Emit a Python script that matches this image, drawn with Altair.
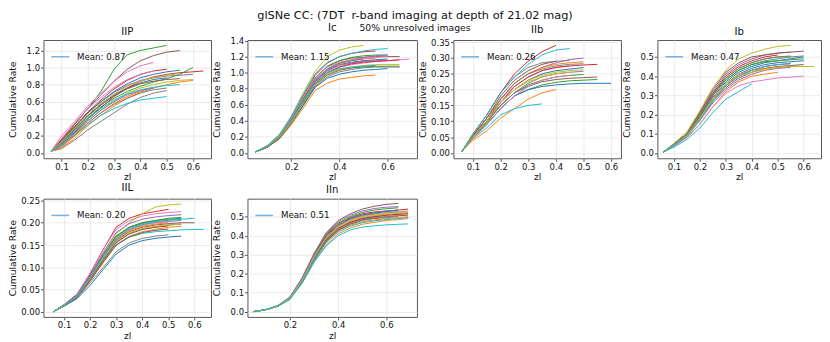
import altair as alt
import pandas as pd

TAB10 = ["#1f77b4", "#ff7f0e", "#2ca02c", "#d62728", "#9467bd",
         "#8c564b", "#e377c2", "#7f7f7f", "#bcbd22", "#17becf"]
FONT = "DejaVu Sans"

SUPTITLE = "glSNe CC: (7DT\u00a0 r-band imaging at depth of 21.02 mag)"
SUBTITLE = "50% unresolved images"

# ---------------- data ----------------
Z_IIP = [0.06, 0.1, 0.15, 0.2, 0.25, 0.3, 0.35, 0.4, 0.45, 0.5, 0.55, 0.6, 0.64]
IIP = [
    [0.02, 0.12, 0.28, 0.44, 0.57, 0.68, 0.76, 0.82, 0.86, 0.88],
    [0.02, 0.06, 0.17, 0.32, 0.44, 0.55, 0.64, 0.71, 0.76, 0.80, 0.83, 0.85],
    [0.02, 0.15, 0.33, 0.52, 0.72, 0.98, 1.15, 1.20, 1.23, 1.26],
    [0.02, 0.10, 0.24, 0.40, 0.53, 0.66, 0.76, 0.84, 0.89, 0.92, 0.94, 0.95, 0.96],
    [0.02, 0.13, 0.30, 0.47, 0.60, 0.71, 0.79, 0.85, 0.88, 0.90, 0.91, 0.92],
    [0.02, 0.16, 0.34, 0.52, 0.68, 0.84, 0.98, 1.08, 1.14, 1.18, 1.20],
    [0.02, 0.20, 0.37, 0.55, 0.70, 0.84, 0.95, 1.02, 1.06],
    [0.02, 0.05, 0.15, 0.27, 0.37, 0.47, 0.57, 0.65, 0.70, 0.73],
    [0.02, 0.09, 0.22, 0.37, 0.50, 0.61, 0.70, 0.76, 0.80, 0.83, 0.85, 0.86],
    [0.02, 0.08, 0.20, 0.33, 0.44, 0.52, 0.58, 0.62, 0.64, 0.66],
    [0.02, 0.14, 0.30, 0.47, 0.60, 0.72, 0.81, 0.88, 0.92, 0.95, 0.97],
    [0.02, 0.07, 0.20, 0.35, 0.47, 0.58, 0.66, 0.72, 0.76],
    [0.02, 0.11, 0.26, 0.41, 0.54, 0.64, 0.72, 0.78, 0.83, 0.87, 0.92, 1.00],
    [0.02, 0.15, 0.31, 0.48, 0.62, 0.75, 0.85, 0.92, 0.96, 0.98],
    [0.02, 0.10, 0.23, 0.38, 0.50, 0.60, 0.68, 0.73, 0.76],
    [0.02, 0.12, 0.27, 0.43, 0.56, 0.67, 0.75, 0.81, 0.84, 0.86, 0.87],
    [0.02, 0.17, 0.35, 0.52, 0.65, 0.77, 0.86, 0.92, 0.96],
    [0.02, 0.09, 0.21, 0.35, 0.47, 0.57, 0.64, 0.70, 0.74, 0.76],
    [0.02, 0.13, 0.29, 0.45, 0.58, 0.69, 0.78, 0.84, 0.88, 0.91, 0.93],
    [0.02, 0.11, 0.25, 0.40, 0.52, 0.62, 0.69, 0.74, 0.77, 0.79, 0.80],
]

Z_IC = [0.05, 0.1, 0.15, 0.2, 0.25, 0.3, 0.35, 0.4, 0.45, 0.5, 0.55, 0.6, 0.65, 0.69]
IC = [
    [0.01, 0.08, 0.20, 0.41, 0.66, 0.90, 1.03, 1.10, 1.13, 1.15, 1.16, 1.17],
    [0.01, 0.07, 0.17, 0.35, 0.56, 0.78, 0.87, 0.92, 0.94, 0.96, 0.97],
    [0.01, 0.08, 0.19, 0.38, 0.62, 0.86, 0.98, 1.04, 1.06, 1.07, 1.08, 1.08, 1.08],
    [0.01, 0.09, 0.22, 0.44, 0.71, 0.97, 1.12, 1.20, 1.24, 1.26, 1.27],
    [0.01, 0.08, 0.20, 0.40, 0.65, 0.89, 1.02, 1.09, 1.12, 1.14, 1.15, 1.15],
    [0.01, 0.08, 0.21, 0.42, 0.68, 0.93, 1.08, 1.15, 1.18, 1.19, 1.20, 1.20, 1.20],
    [0.01, 0.08, 0.20, 0.40, 0.64, 0.88, 1.00, 1.07, 1.10, 1.12, 1.14, 1.15, 1.16, 1.17],
    [0.01, 0.07, 0.18, 0.37, 0.60, 0.83, 0.95, 1.01, 1.04, 1.06, 1.07, 1.07, 1.07],
    [0.01, 0.09, 0.23, 0.46, 0.75, 1.02, 1.20, 1.28, 1.32, 1.34],
    [0.01, 0.09, 0.22, 0.45, 0.73, 0.99, 1.13, 1.20, 1.24, 1.27, 1.29, 1.30],
    [0.01, 0.07, 0.18, 0.37, 0.59, 0.82, 0.93, 0.98, 1.01, 1.03, 1.04, 1.05],
    [0.01, 0.08, 0.20, 0.41, 0.66, 0.91, 1.04, 1.11, 1.15, 1.17, 1.18],
    [0.01, 0.08, 0.21, 0.42, 0.68, 0.94, 1.08, 1.15, 1.19, 1.21, 1.22, 1.22],
    [0.01, 0.08, 0.19, 0.39, 0.63, 0.87, 1.00, 1.07, 1.11, 1.13, 1.14, 1.15, 1.16],
    [0.01, 0.08, 0.20, 0.40, 0.65, 0.90, 1.04, 1.12, 1.16, 1.19, 1.21, 1.22],
    [0.01, 0.07, 0.18, 0.37, 0.61, 0.85, 0.97, 1.03, 1.06, 1.08, 1.09],
    [0.01, 0.09, 0.21, 0.43, 0.69, 0.94, 1.07, 1.13, 1.16, 1.18, 1.19, 1.20],
    [0.01, 0.08, 0.20, 0.41, 0.66, 0.91, 1.05, 1.12, 1.15, 1.17],
    [0.01, 0.08, 0.19, 0.38, 0.62, 0.86, 0.98, 1.04, 1.07, 1.09, 1.10, 1.10, 1.10],
    [0.01, 0.08, 0.20, 0.40, 0.64, 0.88, 1.00, 1.05, 1.07, 1.08, 1.09],
]

Z_IIB = [0.06, 0.1, 0.15, 0.2, 0.25, 0.3, 0.35, 0.4, 0.45, 0.5, 0.55, 0.6]
IIB = [
    [0.005, 0.05, 0.10, 0.16, 0.20, 0.23, 0.25, 0.26, 0.265, 0.27],
    [0.005, 0.04, 0.07, 0.11, 0.14, 0.17, 0.19, 0.20],
    [0.005, 0.05, 0.09, 0.14, 0.18, 0.20, 0.215, 0.223, 0.228, 0.23, 0.232],
    [0.005, 0.06, 0.12, 0.19, 0.25, 0.29, 0.32, 0.34],
    [0.005, 0.05, 0.11, 0.17, 0.22, 0.25, 0.27, 0.285, 0.295, 0.30],
    [0.005, 0.05, 0.10, 0.15, 0.19, 0.21, 0.225, 0.232, 0.236, 0.238, 0.24],
    [0.005, 0.055, 0.11, 0.17, 0.21, 0.24, 0.26, 0.27, 0.275],
    [0.005, 0.06, 0.12, 0.19, 0.24, 0.27, 0.285, 0.29, 0.292],
    [0.005, 0.05, 0.10, 0.16, 0.20, 0.23, 0.245, 0.255, 0.26, 0.263],
    [0.005, 0.045, 0.08, 0.12, 0.14, 0.15, 0.155],
    [0.005, 0.05, 0.09, 0.14, 0.18, 0.20, 0.21, 0.215, 0.218, 0.22, 0.22, 0.22],
    [0.005, 0.055, 0.11, 0.17, 0.22, 0.25, 0.27, 0.28, 0.285, 0.288],
    [0.005, 0.05, 0.095, 0.15, 0.19, 0.215, 0.23, 0.24, 0.245, 0.248],
    [0.005, 0.05, 0.10, 0.16, 0.21, 0.24, 0.26, 0.27, 0.275, 0.278, 0.28],
    [0.005, 0.05, 0.10, 0.15, 0.19, 0.22, 0.24, 0.25, 0.255, 0.258],
    [0.005, 0.055, 0.11, 0.18, 0.23, 0.26, 0.28, 0.29],
    [0.005, 0.045, 0.09, 0.14, 0.18, 0.21, 0.23, 0.24, 0.245],
    [0.005, 0.05, 0.10, 0.17, 0.22, 0.25, 0.265, 0.275, 0.28, 0.282],
    [0.005, 0.05, 0.10, 0.16, 0.20, 0.225, 0.24, 0.25, 0.255],
    [0.005, 0.06, 0.12, 0.19, 0.24, 0.28, 0.31, 0.325, 0.33],
]

Z_IB = [0.06, 0.1, 0.15, 0.2, 0.25, 0.3, 0.35, 0.4, 0.45, 0.5, 0.55, 0.6, 0.64]
IB = [
    [0.005, 0.04, 0.09, 0.18, 0.28, 0.36, 0.41, 0.44, 0.46, 0.47, 0.475, 0.48],
    [0.005, 0.035, 0.08, 0.15, 0.24, 0.32, 0.37, 0.40, 0.41, 0.42],
    [0.005, 0.045, 0.10, 0.20, 0.31, 0.39, 0.44, 0.47, 0.49, 0.50, 0.50],
    [0.005, 0.04, 0.09, 0.18, 0.28, 0.35, 0.40, 0.43, 0.45, 0.46, 0.465],
    [0.005, 0.045, 0.10, 0.21, 0.32, 0.41, 0.46, 0.49, 0.51, 0.52, 0.525],
    [0.005, 0.04, 0.09, 0.17, 0.27, 0.34, 0.39, 0.42, 0.44, 0.45, 0.455, 0.46],
    [0.005, 0.035, 0.08, 0.15, 0.24, 0.31, 0.35, 0.37, 0.38, 0.39, 0.395, 0.40],
    [0.005, 0.045, 0.10, 0.20, 0.30, 0.38, 0.43, 0.46, 0.48, 0.49, 0.50, 0.505],
    [0.005, 0.05, 0.11, 0.22, 0.34, 0.43, 0.49, 0.52, 0.54, 0.555, 0.56],
    [0.005, 0.03, 0.07, 0.13, 0.21, 0.28, 0.32, 0.36],
    [0.005, 0.04, 0.09, 0.19, 0.29, 0.37, 0.42, 0.45, 0.47, 0.48, 0.49, 0.50],
    [0.005, 0.04, 0.09, 0.18, 0.28, 0.36, 0.41, 0.43, 0.44, 0.445, 0.45],
    [0.005, 0.04, 0.095, 0.19, 0.30, 0.38, 0.43, 0.46, 0.475, 0.48, 0.485, 0.49],
    [0.005, 0.045, 0.10, 0.20, 0.31, 0.40, 0.45, 0.48, 0.50, 0.51],
    [0.005, 0.04, 0.09, 0.17, 0.26, 0.33, 0.38, 0.41, 0.43, 0.44, 0.445],
    [0.005, 0.045, 0.10, 0.21, 0.33, 0.42, 0.47, 0.50, 0.51, 0.52, 0.525, 0.53],
    [0.005, 0.04, 0.09, 0.18, 0.27, 0.35, 0.40, 0.43, 0.45, 0.46],
    [0.005, 0.045, 0.10, 0.20, 0.30, 0.39, 0.44, 0.47, 0.49, 0.50, 0.505],
    [0.005, 0.04, 0.09, 0.18, 0.28, 0.36, 0.40, 0.42, 0.435, 0.445, 0.45, 0.45, 0.45],
    [0.005, 0.04, 0.085, 0.17, 0.27, 0.35, 0.40, 0.43, 0.45, 0.46, 0.465],
]

Z_IIL = [0.06, 0.1, 0.15, 0.2, 0.25, 0.3, 0.35, 0.4, 0.45, 0.5, 0.55, 0.6, 0.635]
IIL = [
    [0.001, 0.015, 0.035, 0.072, 0.115, 0.155, 0.175, 0.185, 0.19, 0.195, 0.197],
    [0.001, 0.014, 0.033, 0.07, 0.11, 0.15, 0.17, 0.18, 0.185, 0.19, 0.192],
    [0.001, 0.016, 0.038, 0.08, 0.13, 0.17, 0.19, 0.20, 0.205, 0.21, 0.212],
    [0.001, 0.016, 0.04, 0.085, 0.14, 0.19, 0.21, 0.22, 0.225, 0.23],
    [0.001, 0.015, 0.036, 0.077, 0.125, 0.165, 0.185, 0.195, 0.20, 0.203, 0.205],
    [0.001, 0.015, 0.035, 0.074, 0.12, 0.16, 0.18, 0.19, 0.195, 0.198, 0.20, 0.20],
    [0.001, 0.017, 0.04, 0.088, 0.14, 0.185, 0.205, 0.215, 0.22, 0.223, 0.225],
    [0.001, 0.014, 0.032, 0.066, 0.10, 0.135, 0.155, 0.165, 0.17, 0.173],
    [0.001, 0.016, 0.038, 0.08, 0.13, 0.175, 0.20, 0.22, 0.235, 0.24, 0.242],
    [0.001, 0.015, 0.035, 0.072, 0.115, 0.15, 0.168, 0.176, 0.18, 0.182, 0.184, 0.185, 0.185],
    [0.001, 0.013, 0.03, 0.06, 0.095, 0.13, 0.15, 0.16, 0.165, 0.168, 0.17],
    [0.001, 0.015, 0.036, 0.076, 0.122, 0.162, 0.182, 0.192, 0.197, 0.20],
    [0.001, 0.016, 0.037, 0.078, 0.128, 0.17, 0.19, 0.20, 0.205, 0.208, 0.21],
    [0.001, 0.015, 0.034, 0.073, 0.118, 0.157, 0.176, 0.186, 0.19, 0.193],
    [0.001, 0.016, 0.039, 0.082, 0.133, 0.178, 0.198, 0.208, 0.213, 0.216, 0.218],
    [0.001, 0.014, 0.033, 0.07, 0.112, 0.15, 0.168, 0.178, 0.183, 0.186],
    [0.001, 0.015, 0.036, 0.077, 0.124, 0.165, 0.185, 0.195, 0.20, 0.202],
    [0.001, 0.016, 0.037, 0.079, 0.127, 0.168, 0.188, 0.198, 0.203, 0.206, 0.208],
    [0.001, 0.015, 0.035, 0.075, 0.12, 0.158, 0.177, 0.187, 0.192, 0.195, 0.197],
    [0.001, 0.015, 0.036, 0.076, 0.123, 0.164, 0.185, 0.196, 0.202, 0.206, 0.208, 0.21],
]

Z_IIN = [0.05, 0.1, 0.15, 0.2, 0.25, 0.3, 0.35, 0.4, 0.45, 0.5, 0.55, 0.6, 0.65, 0.69]
IIN = [
    [0.0, 0.01, 0.03, 0.07, 0.16, 0.28, 0.38, 0.44, 0.47, 0.49, 0.50, 0.51, 0.515, 0.52],
    [0.0, 0.01, 0.028, 0.065, 0.15, 0.26, 0.35, 0.41, 0.44, 0.46, 0.47, 0.48, 0.485, 0.49],
    [0.0, 0.01, 0.03, 0.072, 0.165, 0.29, 0.39, 0.45, 0.485, 0.505, 0.515, 0.52, 0.525],
    [0.0, 0.01, 0.031, 0.074, 0.17, 0.295, 0.40, 0.46, 0.495, 0.515, 0.525, 0.53, 0.535, 0.54],
    [0.0, 0.01, 0.03, 0.07, 0.16, 0.285, 0.385, 0.45, 0.485, 0.505, 0.52, 0.53, 0.535],
    [0.0, 0.01, 0.032, 0.076, 0.175, 0.305, 0.415, 0.48, 0.515, 0.54, 0.555, 0.565, 0.57],
    [0.0, 0.01, 0.03, 0.07, 0.16, 0.28, 0.38, 0.44, 0.475, 0.495, 0.505, 0.51, 0.515, 0.52],
    [0.0, 0.01, 0.029, 0.068, 0.155, 0.27, 0.37, 0.43, 0.46, 0.48, 0.49, 0.495, 0.50],
    [0.0, 0.01, 0.03, 0.071, 0.162, 0.283, 0.383, 0.443, 0.475, 0.495, 0.505, 0.512, 0.517, 0.52],
    [0.0, 0.01, 0.028, 0.064, 0.148, 0.26, 0.345, 0.40, 0.43, 0.445, 0.452, 0.457, 0.46, 0.462],
    [0.0, 0.01, 0.031, 0.073, 0.168, 0.293, 0.395, 0.455, 0.49, 0.51, 0.52, 0.527, 0.532],
    [0.0, 0.01, 0.029, 0.067, 0.153, 0.27, 0.365, 0.425, 0.455, 0.473, 0.483, 0.49, 0.495, 0.50],
    [0.0, 0.01, 0.031, 0.075, 0.172, 0.30, 0.405, 0.465, 0.50, 0.522, 0.535, 0.542, 0.547],
    [0.0, 0.01, 0.03, 0.07, 0.158, 0.278, 0.378, 0.438, 0.47, 0.49, 0.50, 0.507, 0.512, 0.515],
    [0.0, 0.01, 0.032, 0.077, 0.176, 0.305, 0.41, 0.472, 0.507, 0.53, 0.543, 0.55, 0.553],
    [0.0, 0.01, 0.029, 0.068, 0.155, 0.272, 0.37, 0.43, 0.463, 0.483, 0.493, 0.50, 0.505, 0.508],
    [0.0, 0.01, 0.031, 0.072, 0.165, 0.29, 0.39, 0.45, 0.483, 0.503, 0.513, 0.52, 0.525, 0.53],
    [0.0, 0.01, 0.03, 0.069, 0.157, 0.275, 0.373, 0.433, 0.465, 0.485, 0.495, 0.50, 0.505],
    [0.0, 0.01, 0.03, 0.071, 0.163, 0.287, 0.388, 0.448, 0.48, 0.50, 0.51, 0.517, 0.522, 0.525],
    [0.0, 0.01, 0.029, 0.066, 0.152, 0.268, 0.362, 0.42, 0.45, 0.468, 0.478, 0.485, 0.49, 0.495],
]

NAMES = ["IIP", "Ic", "IIb", "Ib", "IIL", "IIn"]
MEANS = ["0.87", "1.15", "0.26", "0.47", "0.20", "0.51"]
GRIDS = [Z_IIP, Z_IC, Z_IIB, Z_IB, Z_IIL, Z_IIN]
CURVES = [IIP, IC, IIB, IB, IIL, IIN]

X_TICKS = [[0.1, 0.2, 0.3, 0.4, 0.5, 0.6], [0.2, 0.4, 0.6],
           [0.1, 0.2, 0.3, 0.4, 0.5, 0.6], [0.1, 0.2, 0.3, 0.4, 0.5, 0.6],
           [0.1, 0.2, 0.3, 0.4, 0.5, 0.6], [0.2, 0.4, 0.6]]
Y_TICKS = [[0.0, 0.2, 0.4, 0.6, 0.8, 1.0, 1.2],
           [0.0, 0.2, 0.4, 0.6, 0.8, 1.0, 1.2, 1.4],
           [0.0, 0.05, 0.1, 0.15, 0.2, 0.25, 0.3, 0.35],
           [0.0, 0.1, 0.2, 0.3, 0.4, 0.5],
           [0.0, 0.05, 0.1, 0.15, 0.2, 0.25],
           [0.0, 0.1, 0.2, 0.3, 0.4, 0.5]]
Y_FMT = [".1f", ".1f", ".2f", ".1f", ".2f", ".1f"]

# ---------------- layout / style (not data) ----------------
X_DOM = [[0.031, 0.669], [0.018, 0.722], [0.029, 0.636],
         [0.036, 0.667], [0.021, 0.664], [0.024, 0.727]]
Y_DOM = [[-0.063, 1.323], [-0.067, 1.407], [-0.017, 0.357],
         [-0.028, 0.588], [-0.011, 0.254], [-0.028, 0.595]]
WIDTHS = [170, 172, 170, 166, 170, 172]
HEIGHT = 120
LEGEND_BLUE = "#7fb2dd"

n_curves = max(len(c) for c in CURVES)
cid_domain = [f"c{i:02d}" for i in range(n_curves)]


def panel(k):
    rows = []
    for ci, ys in enumerate(CURVES[k]):
        for z, y in zip(GRIDS[k], ys):
            rows.append({"zl": z, "rate": y, "cid": f"c{ci:02d}"})
    df = pd.DataFrame(rows)
    x = alt.X("zl:Q", title="zl",
              scale=alt.Scale(domain=X_DOM[k], nice=False, zero=False),
              axis=alt.Axis(values=X_TICKS[k], format=".1f", labelOverlap=False))
    y = alt.Y("rate:Q", title="Cumulative Rate",
              scale=alt.Scale(domain=Y_DOM[k], nice=False, zero=False),
              axis=alt.Axis(values=Y_TICKS[k], format=Y_FMT[k], minExtent=24,
                            labelOverlap=False))
    lines = alt.Chart(df).mark_line(strokeWidth=1, clip=True).encode(
        x=x, y=y,
        color=alt.Color("cid:N", scale=alt.Scale(domain=cid_domain, range=TAB10),
                        legend=None),
        order=alt.Order("zl:Q"),
    )
    lab = f"Mean: {MEANS[k]}"
    leg_df = pd.DataFrame({"zl": [GRIDS[k][0]], "rate": [CURVES[k][0][0]],
                           "lab": [lab]})
    leg = alt.Chart(leg_df).mark_line(strokeWidth=1.6).encode(
        x=x, y=y,
        stroke=alt.Stroke("lab:N",
                          scale=alt.Scale(domain=[lab], range=[LEGEND_BLUE]),
                          legend=alt.Legend(orient="top-left", title=None,
                                            symbolType="stroke", symbolSize=324,
                                            symbolStrokeWidth=1.6,
                                            labelFontSize=8.8, labelFont=FONT,
                                            labelColor="#111", labelOffset=7,
                                            offset=6, padding=1)),
    )
    return alt.layer(lines, leg).properties(
        width=WIDTHS[k], height=HEIGHT,
        title=alt.TitleParams(NAMES[k], fontSize=10.3, font=FONT,
                              fontWeight="normal", offset=3, color="#111"),
    )


chart = alt.concat(*[panel(k) for k in range(6)], columns=4, spacing=0).resolve_scale(
    stroke="independent"
).properties(
    padding={"top": -1, "left": 0, "right": 0, "bottom": 0},
    title=alt.TitleParams(SUPTITLE, subtitle=SUBTITLE, fontSize=11.5,
                          subtitleFontSize=9.4, font=FONT, subtitleFont=FONT,
                          fontWeight="normal", anchor="middle", offset=-9,
                          subtitlePadding=2, color="#111", subtitleColor="#111"),
).configure_view(
    stroke="#555", strokeWidth=1
).configure_axis(
    labelFont=FONT, titleFont=FONT, labelFontSize=8.6, titleFontSize=9.3,
    titleFontWeight="normal", labelColor="#111", titleColor="#111",
    tickSize=3, tickColor="#555", labelPadding=1, titlePadding=2,
    domain=False, grid=True, gridColor="#e6e6e6", gridWidth=0.8,
)

chart.save("out.html", embed_options={"renderer": "svg", "actions": False})
